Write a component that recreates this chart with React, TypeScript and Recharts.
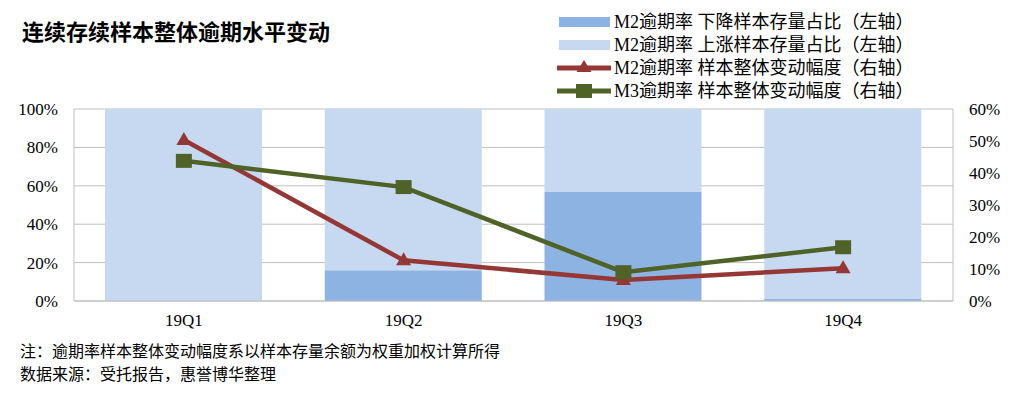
import { Bar, CartesianGrid, ComposedChart, Line, XAxis, YAxis } from "recharts";

const categories = ["19Q1", "19Q2", "19Q3", "19Q4"];
const m2DownShare = [0, 16, 57, 1];
const m2UpShare = [100, 84, 43, 99];
const m2Change = [50.3, 12.7, 6.6, 10.2];
const m3Change = [43.8, 35.6, 9.0, 16.8];

const leftTicks = [0, 20, 40, 60, 80, 100];
const rightTicks = [0, 10, 20, 30, 40, 50, 60];

const data = categories.map((q, i) => ({
  q,
  down: m2DownShare[i],
  up: m2UpShare[i],
  m2: m2Change[i],
  m3: m3Change[i],
}));

const FONT = '"Liberation Serif", "Noto Sans CJK SC", serif';
const CJK = '"Liberation Serif", "Noto Sans CJK SC", sans-serif';

const DARK_BLUE = "#8DB3E2";
const LIGHT_BLUE = "#C6D9F1";
const RED = "#953735";
const GREEN = "#4F6228";
const GRID = "#BFBFBF";

function Triangle(props: any) {
  const { cx, cy } = props;
  if (cx == null || cy == null) return null;
  return <path d={`M${cx},${cy - 8} L${cx + 7.5},${cy + 5} L${cx - 7.5},${cy + 5} Z`} fill={RED} />;
}

function Square(props: any) {
  const { cx, cy } = props;
  if (cx == null || cy == null) return null;
  return <rect x={cx - 8} y={cy - 7} width={16} height={14} fill={GREEN} />;
}

const legendRows = [
  { label: "M2逾期率 下降样本存量占比（左轴）", kind: "bar", color: DARK_BLUE, y: 22 },
  { label: "M2逾期率 上涨样本存量占比（左轴）", kind: "bar", color: LIGHT_BLUE, y: 45 },
  { label: "M2逾期率 样本整体变动幅度（右轴）", kind: "tri", color: RED, y: 68 },
  { label: "M3逾期率 样本整体变动幅度（右轴）", kind: "sq", color: GREEN, y: 91 },
];

function LegendBox() {
  return (
    <svg width={1029} height={110} style={{ position: "absolute", left: 0, top: 0 }}>
      {legendRows.map((r) => (
        <g key={r.label}>
          {r.kind === "bar" && <rect x={559} y={r.y - 5} width={51} height={10} fill={r.color} />}
          {r.kind !== "bar" && <rect x={557} y={r.y - 2.5} width={54} height={5} fill={r.color} />}
          {r.kind === "tri" && <path d={`M584,${r.y - 8} L591.5,${r.y + 4} L576.5,${r.y + 4} Z`} fill={r.color} />}
          {r.kind === "sq" && <rect x={576} y={r.y - 7} width={16} height={14} fill={r.color} />}
          <text x={614} y={r.y} dy="0.35em" fontSize={18} fontFamily={CJK} fill="#000">
            {r.label}
          </text>
        </g>
      ))}
    </svg>
  );
}

export default function App() {
  return (
    <div style={{ position: "absolute", left: 0, top: 0, width: 1029, height: 397, background: "#fff" }}>
      <ComposedChart
        width={1029}
        height={397}
        data={data}
        margin={{ top: 109, right: 0, bottom: 66, left: 0 }}
        barSize={157}
      >
        <CartesianGrid yAxisId="left" vertical={false} stroke={GRID} strokeWidth={1} />
        <XAxis
          dataKey="q"
          height={30}
          axisLine={{ stroke: GRID }}
          tickLine={false}
          tickSize={0}
          tickMargin={13}
          tick={{ fill: "#000", fontSize: 17, fontFamily: FONT }}
        />
        <YAxis
          yAxisId="left"
          width={74}
          domain={[0, 100]}
          ticks={leftTicks}
          tickFormatter={(v) => `${v}%`}
          axisLine={{ stroke: GRID }}
          tickLine={false}
          tickSize={0}
          tickMargin={16}
          tick={{ fill: "#000", fontSize: 17, fontFamily: FONT }}
        />
        <YAxis
          yAxisId="right"
          orientation="right"
          width={76}
          domain={[0, 60]}
          ticks={rightTicks}
          tickFormatter={(v) => `${v}%`}
          axisLine={{ stroke: GRID }}
          tickLine={false}
          tickSize={0}
          tickMargin={16}
          tick={{ fill: "#000", fontSize: 17, fontFamily: FONT }}
        />
        <Bar yAxisId="left" dataKey="down" stackId="s" fill={DARK_BLUE} isAnimationActive={false} />
        <Bar yAxisId="left" dataKey="up" stackId="s" fill={LIGHT_BLUE} isAnimationActive={false} />
        <Line
          yAxisId="right"
          dataKey="m2"
          stroke={RED}
          strokeWidth={4.5}
          dot={<Triangle />}
          activeDot={false}
          isAnimationActive={false}
        />
        <Line
          yAxisId="right"
          dataKey="m3"
          stroke={GREEN}
          strokeWidth={4.5}
          dot={<Square />}
          activeDot={false}
          isAnimationActive={false}
        />
      </ComposedChart>
      <div
        style={{
          position: "absolute",
          left: 22,
          top: 15,
          fontSize: 22,
          fontWeight: "bold",
          fontFamily: '"Noto Sans CJK SC", sans-serif',
          lineHeight: "30px",
          color: "#000",
        }}
      >
        连续存续样本整体逾期水平变动
      </div>
      <LegendBox />
      <div
        style={{
          position: "absolute",
          left: 20,
          top: 340,
          fontSize: 16,
          fontFamily: CJK,
          lineHeight: "23px",
          color: "#000",
        }}
      >
        <div>注：逾期率样本整体变动幅度系以样本存量余额为权重加权计算所得</div>
        <div>数据来源：受托报告，惠誉博华整理</div>
      </div>
    </div>
  );
}
